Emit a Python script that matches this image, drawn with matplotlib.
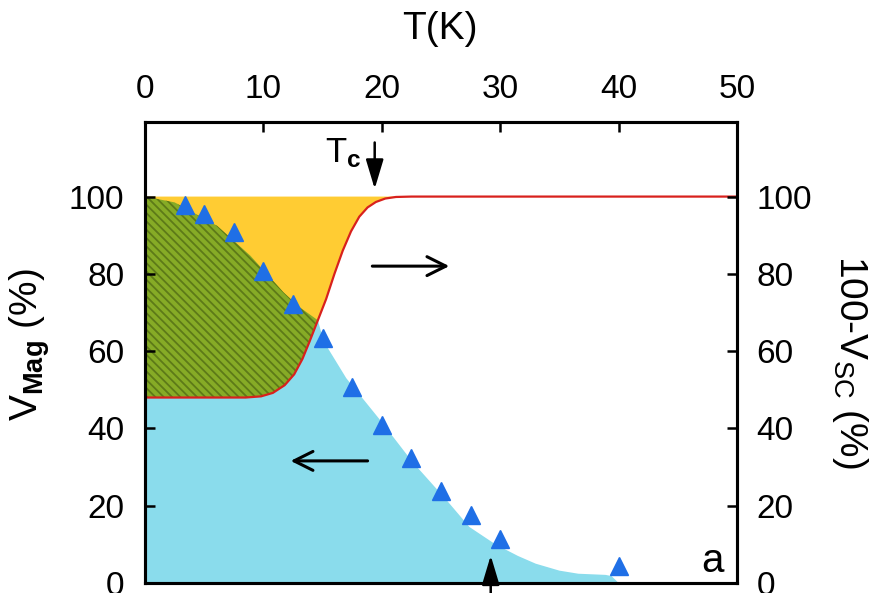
import numpy as np
import matplotlib
matplotlib.use("Agg")
import matplotlib.pyplot as plt

plt.rcParams['font.family'] = ['Liberation Sans', 'DejaVu Sans']
plt.rcParams['mathtext.fontset'] = 'custom'
plt.rcParams['mathtext.rm'] = 'Liberation Sans'
plt.rcParams['mathtext.it'] = 'Liberation Sans:italic'
plt.rcParams['mathtext.bf'] = 'Liberation Sans:bold'
plt.rcParams['hatch.linewidth'] = 1.3

# Axis ticks
T_ticks = [0, 10, 20, 30, 40, 50]
V_ticks = [0, 20, 40, 60, 80, 100]

# Measured magnetic volume fraction (triangles)
T_tri = [3.4, 5.0, 7.5, 10.0, 12.5, 15.0, 17.5, 20.0, 22.5, 25.0, 27.5, 30.0, 40.0]
V_tri = [97.8, 95.5, 90.9, 80.8, 72.2, 63.3, 50.6, 41.0, 32.3, 23.9, 17.6, 11.4, 4.5]

# Smooth guide for the magnetic volume (edge of the cyan region)
T_mag = [0, 2.5, 6.1, 8.9, 11.7, 13.0, 14.6, 15.1, 17.0, 19.8, 22.6, 25.4, 27.4,
         29.6, 31.5, 33.0, 35.0, 36.6, 38.9, 39.4, 40.0]
V_mag = [100, 98.5, 92.4, 84.7, 75.2, 71.5, 68.0, 62.5, 53.0, 42.4, 31.3, 21.7, 14.5,
         10.0, 7.0, 5.0, 3.2, 2.4, 2.1, 1.8, 0]

# 100 - superconducting volume (red curve)
T_sc = [0, 8.5, 9.8, 10.8, 11.8, 12.6, 13.3, 13.9, 14.6, 15.3, 16.0, 16.7, 17.4,
        18.1, 18.8, 19.5, 20.3, 21.2, 22.5, 50]
V_sc = [48, 48, 48.3, 49.2, 51.2, 54, 58, 62.5, 68, 73.5, 80, 86, 91,
        94.8, 97.2, 98.6, 99.5, 99.9, 100, 100]

T_c = 19.4
T_mark = 29.2

T_mag_a = np.array(T_mag)
V_mag_a = np.array(V_mag)
T_sc_a = np.array(T_sc)
V_sc_a = np.array(V_sc)

fig = plt.figure(figsize=(8.74, 5.93), dpi=100)
ax = fig.add_axes([145 / 874, 10 / 593, (737 - 145) / 874, (583 - 122) / 593])

cyan = '#8adcec'
yellow = '#ffcc33'
green = '#86ab26'
hatch_col = '#5d7a18'
red = '#d8211d'
blue = '#1f6fe6'

# cyan: region under the magnetic volume curve
ax.fill(np.concatenate([T_mag_a, [0]]), np.concatenate([V_mag_a, [0]]),
        color=cyan, lw=0, zorder=1)

# yellow: between the red curve and 100 %
sel = T_sc_a <= 22.5
ax.fill(np.concatenate([T_sc_a[sel], [0]]), np.concatenate([V_sc_a[sel], [100]]),
        color=yellow, lw=0, zorder=1.1)

# hatched green: overlap of the two regions
m1 = T_mag_a <= 14.6
m2 = T_sc_a <= 14.6
ax.fill(np.concatenate([T_mag_a[m1], T_sc_a[m2][::-1]]),
        np.concatenate([V_mag_a[m1], V_sc_a[m2][::-1]]),
        facecolor=green, edgecolor=hatch_col, hatch='\\\\\\\\', lw=0, zorder=1.2)

ax.plot(T_sc, V_sc, color=red, lw=1.6, zorder=2)
ax.plot(T_tri, V_tri, ls='none', marker='^', ms=13.5, color=blue, mec=blue, zorder=3)

ax.set_xlim(0, 50)
ax.set_ylim(0, 119.3)
ax.set_xticks(T_ticks)
ax.set_xticklabels([str(t) for t in T_ticks])
ax.set_yticks(V_ticks)
ax.set_yticklabels([str(v) for v in V_ticks])
ax.tick_params(axis='x', direction='in', length=7, width=1.8, top=True, bottom=False,
               labeltop=True, labelbottom=False, pad=12, labelsize=24)
ax.tick_params(axis='y', direction='in', length=7, width=1.8, left=True, right=False,
               pad=15, labelsize=24)
for s in ax.spines.values():
    s.set_linewidth(2.2)

ax2 = ax.twinx()
ax2.set_ylim(0, 119.3)
ax2.set_yticks(V_ticks)
ax2.set_yticklabels([str(v) for v in V_ticks])
ax2.tick_params(axis='y', direction='in', length=7, width=1.8, right=True, left=False,
                pad=14, labelsize=24)
for s in ax2.spines.values():
    s.set_linewidth(2.2)

fig.text(440 / 874, 1 - 29 / 593, 'T(K)', fontsize=28, ha='center', va='center')
fig.text(30 / 874, 1 - 345 / 593, r'V$_{\mathbf{Mag}}$ (%)', fontsize=28,
         rotation=90, ha='center', va='center')
fig.text(850 / 874, 1 - 362 / 593, r'100-V$_{\mathrm{SC}}$ (%)', fontsize=28,
         rotation=-90, ha='center', va='center')

# direction arrows
ax.annotate('', xy=(25.7, 82), xytext=(19.2, 82),
            arrowprops=dict(arrowstyle='->', lw=2.2, color='black', mutation_scale=34,
                            shrinkA=0, shrinkB=0), zorder=4)
ax.annotate('', xy=(12.3, 31.6), xytext=(18.8, 31.6),
            arrowprops=dict(arrowstyle='->', lw=2.2, color='black', mutation_scale=34,
                            shrinkA=0, shrinkB=0), zorder=4)
ax.annotate('', xy=(T_c, 102), xytext=(T_c, 114),
            arrowprops=dict(arrowstyle='-|>,head_length=0.6,head_width=0.18', lw=1.8,
                            color='black', mutation_scale=30, shrinkA=0, shrinkB=0),
            zorder=4)
ax.annotate('', xy=(T_mark, 7.1), xytext=(T_mark, -6),
            arrowprops=dict(arrowstyle='-|>,head_length=0.6,head_width=0.18', lw=1.8,
                            color='black', mutation_scale=30, shrinkA=0, shrinkB=0),
            zorder=4, annotation_clip=False)

ax.text(18.3, 108.9, r'T$_{\mathbf{c}}$', fontsize=25, ha='right', va='baseline', zorder=4)
ax.text(47.9, 2.85, 'a', fontsize=29, ha='center', va='baseline', zorder=4)

fig.savefig('out.png', dpi=100)
